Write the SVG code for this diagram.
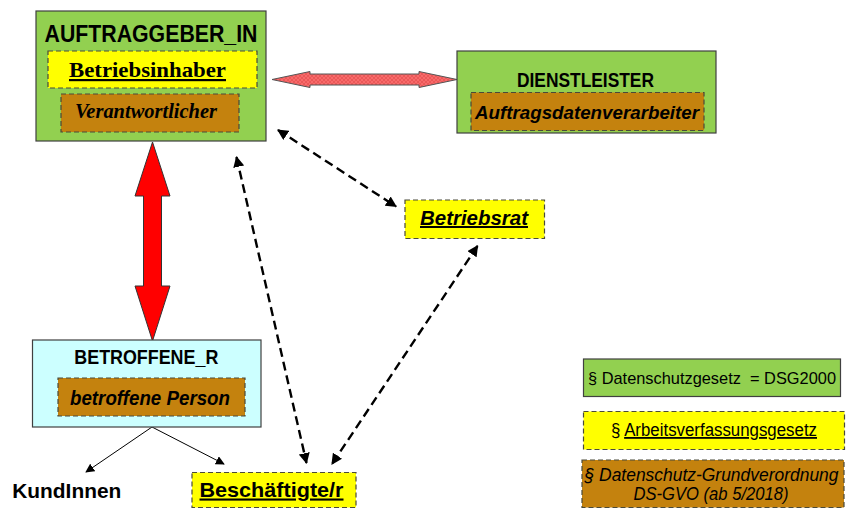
<svg xmlns="http://www.w3.org/2000/svg" width="846" height="509" viewBox="0 0 846 509">
<style>
.box{stroke:#404040;stroke-width:1.2}
.dbox{stroke:#4a4a3a;stroke-width:1.2;stroke-dasharray:5 3}
.green{fill:#92d050}
.yellow{fill:#ffff00}
.brown{fill:#c4820e}
.cyan{fill:#ccffff}
.sans{font-family:"Liberation Sans",Arial,sans-serif;fill:#000}
.serif{font-family:"Liberation Serif","Times New Roman",serif;fill:#000}
.b{font-weight:bold}
.i{font-style:italic}
.dash{fill:none;stroke:#000;stroke-width:2.4;stroke-dasharray:9 5}
.thin{fill:none;stroke:#000;stroke-width:1}
</style>
<defs>
<marker id="ah" viewBox="0 0 10 10" refX="9" refY="5" markerWidth="11" markerHeight="11" markerUnits="userSpaceOnUse" orient="auto-start-reverse">
<path d="M0,0 L10,5 L0,10 z" fill="#000"/>
</marker>
<marker id="ahs" viewBox="0 0 10 10" refX="9" refY="5" markerWidth="9" markerHeight="9" markerUnits="userSpaceOnUse" orient="auto">
<path d="M0,0 L10,5 L0,10 z" fill="#000"/>
</marker>
<pattern id="pk" width="4" height="4" patternUnits="userSpaceOnUse">
<rect width="4" height="4" fill="#f86a6a"/>
<path d="M0,0 L4,4 M4,0 L0,4" stroke="#e04c4c" stroke-width="0.6"/>
</pattern>
</defs>

<g id="connectors">
<polygon points="272,79.5 310,71.5 310,74 419,74 419,71.5 457,79.5 419,87.5 419,85 310,85 310,87.5" fill="url(#pk)" stroke="#555" stroke-width="1"/>
<polygon points="152.5,142 170,196 161.5,196 161.5,286 170,286 152.5,341 135,286 143.5,286 143.5,196 135,196" fill="#ff0000" stroke="#333" stroke-width="1"/>
<line class="dash" x1="278" y1="130" x2="396" y2="206.5" marker-start="url(#ah)" marker-end="url(#ah)"/>
<line class="dash" x1="236.5" y1="157" x2="306.5" y2="463" marker-start="url(#ah)" marker-end="url(#ah)"/>
<line class="dash" x1="477.5" y1="246" x2="332" y2="464" marker-start="url(#ah)" marker-end="url(#ah)"/>
<line class="thin" x1="152" y1="427" x2="86" y2="472" marker-end="url(#ahs)"/>
<line class="thin" x1="152" y1="427" x2="224" y2="464" marker-end="url(#ahs)"/>
</g>

<g id="auftraggeber">
<rect class="box green" x="36" y="11" width="230" height="130"/>
<text class="sans b" x="151" y="41.5" font-size="23" text-anchor="middle" textLength="213" lengthAdjust="spacingAndGlyphs">AUFTRAGGEBER_IN</text>
<rect class="dbox yellow" x="48" y="51" width="209" height="37"/>
<text class="serif b" x="147.5" y="77" font-size="22" text-anchor="middle" text-decoration="underline" textLength="157" lengthAdjust="spacingAndGlyphs">Betriebsinhaber</text>
<rect class="dbox brown" x="61" y="94" width="178" height="38"/>
<text class="serif b i" x="146" y="118" font-size="20" text-anchor="middle" textLength="142" lengthAdjust="spacingAndGlyphs">Verantwortlicher</text>
</g>

<g id="dienstleister">
<rect class="box green" x="457" y="51" width="259" height="82"/>
<text class="sans b" x="585.5" y="87" font-size="21" text-anchor="middle" textLength="137" lengthAdjust="spacingAndGlyphs">DIENSTLEISTER</text>
<rect class="dbox brown" x="471" y="92.5" width="233" height="38"/>
<text class="sans b i" x="587" y="118.5" font-size="19" text-anchor="middle" textLength="224" lengthAdjust="spacingAndGlyphs">Auftragsdatenverarbeiter</text>
</g>

<g id="betriebsrat">
<rect class="dbox yellow" x="405" y="200" width="139.5" height="38.5"/>
<text class="sans b i" x="474" y="225" font-size="20" text-anchor="middle" text-decoration="underline" textLength="108" lengthAdjust="spacingAndGlyphs">Betriebsrat</text>
</g>

<g id="betroffene">
<rect class="box cyan" x="32.5" y="340" width="228.5" height="87"/>
<text class="sans b" x="146.3" y="363.5" font-size="21" text-anchor="middle" textLength="144" lengthAdjust="spacingAndGlyphs">BETROFFENE_R</text>
<rect class="dbox brown" x="58" y="378" width="187" height="38"/>
<text class="sans b i" x="150" y="404.5" font-size="20" text-anchor="middle" textLength="160" lengthAdjust="spacingAndGlyphs">betroffene Person</text>
</g>

<g id="kundinnen">
<text class="sans b" x="12.3" y="497.5" font-size="20.5" textLength="109" lengthAdjust="spacingAndGlyphs">KundInnen</text>
</g>

<g id="beschaeftigte">
<rect class="dbox yellow" x="192" y="472.5" width="164" height="35"/>
<text class="sans b" x="199.5" y="496.5" font-size="21" text-decoration="underline" textLength="144" lengthAdjust="spacingAndGlyphs">Beschäftigte/r</text>
</g>

<g id="legend-dsg">
<rect class="box green" x="583.5" y="359" width="257" height="37.5"/>
<text class="sans" x="588" y="383.5" font-size="16.4" textLength="248" lengthAdjust="spacingAndGlyphs">§ Datenschutzgesetz&#160; = DSG2000</text>
</g>

<g id="legend-arbvg">
<rect class="dbox yellow" x="583.5" y="411.5" width="261" height="38"/>
<text class="sans" x="611" y="436" font-size="18" textLength="206" lengthAdjust="spacingAndGlyphs">§ <tspan text-decoration="underline">Arbeitsverfassungsgesetz</tspan></text>
</g>

<g id="legend-dsgvo">
<rect class="dbox brown" x="582" y="460" width="262" height="47.5"/>
<text class="sans i" x="584.5" y="481" font-size="18" textLength="254" lengthAdjust="spacingAndGlyphs">§ Datenschutz-Grundverordnung</text>
<text class="sans i" x="711" y="499.5" font-size="18" text-anchor="middle" textLength="155" lengthAdjust="spacingAndGlyphs">DS-GVO (ab 5/2018)</text>
</g>
</svg>
